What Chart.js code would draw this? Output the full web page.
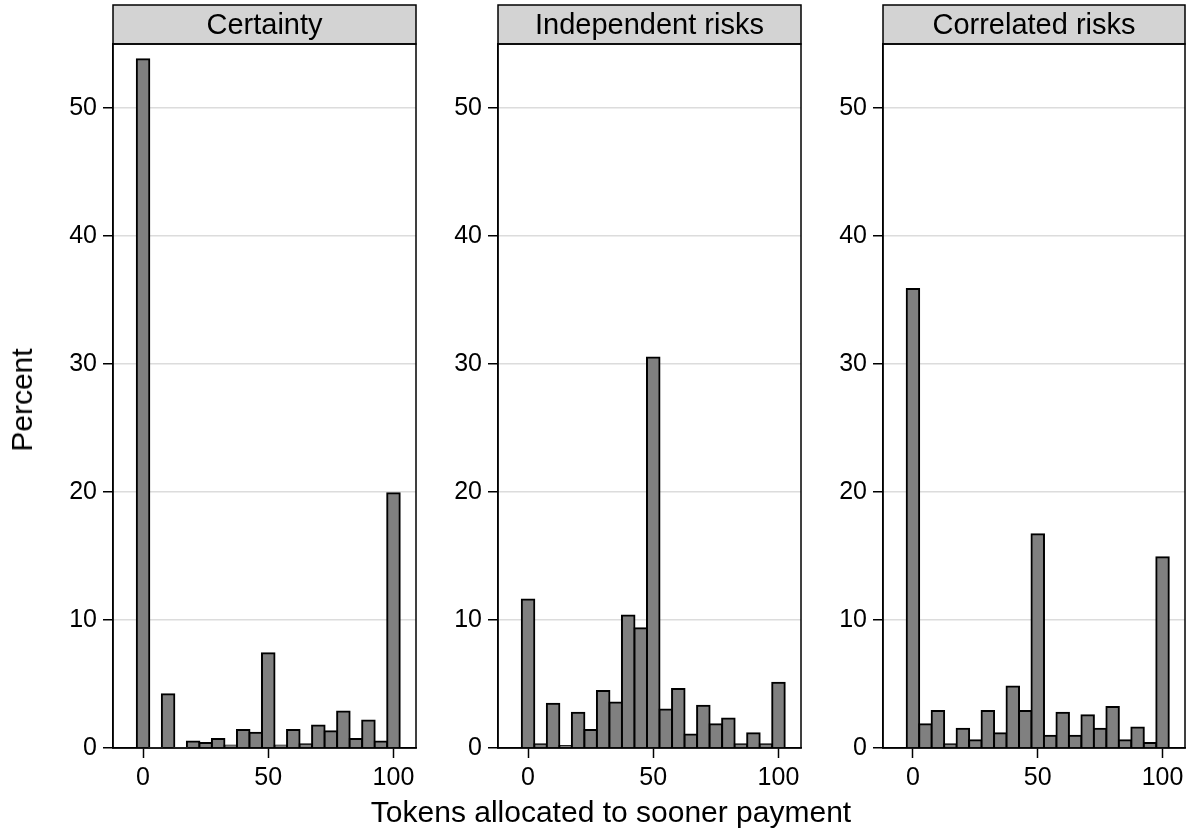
<!DOCTYPE html>
<html lang="en">
<head>
<meta charset="UTF-8" />
<title>Tokens allocated to sooner payment</title>
<script src="https://cdn.jsdelivr.net/npm/chart.js"></script>
<style>
	body {
		margin: 0;
		background: #fff;
		font-family: "Liberation Sans", Arial, sans-serif;
		overflow: hidden;
	}
	#wrap {
		position: relative;
		width: 1191px;
		height: 838px;
	}
	canvas {
		position: absolute;
		top: 0;
	}
	.ytitle {
		position: absolute;
		left: 22px;
		top: 400px;
		font-size: 30px;
		line-height: 30px;
		white-space: nowrap;
		transform: translate(-50%, -50%) rotate(-90deg);
	}
	.xtitle {
		position: absolute;
		left: 611px;
		top: 797px;
		font-size: 30px;
		line-height: 30px;
		white-space: nowrap;
		transform: translateX(-50%);
	}
</style>
</head>
<body>
<div id="wrap">
	<canvas id="c1" width="409" height="838" style="left:13px"></canvas>
	<canvas id="c2" width="409" height="838" style="left:398px"></canvas>
	<canvas id="c3" width="408" height="838" style="left:783px"></canvas>
	<div class="ytitle">Percent</div>
	<div class="xtitle">Tokens allocated to sooner payment</div>
</div>
<script>
	const bins = [0, 5, 10, 15, 20, 25, 30, 35, 40, 45, 50, 55, 60, 65, 70, 75, 80, 85, 90, 95, 100];
	const certainty = [53.8, 0, 4.2, 0, 0.5, 0.4, 0.7, 0.2, 1.4, 1.2, 7.4, 0.2, 1.4, 0.3, 1.75, 1.3, 2.85, 0.7, 2.15, 0.5, 19.9];
	const independent = [11.6, 0.3, 3.45, 0.15, 2.75, 1.4, 4.45, 3.55, 10.35, 9.35, 30.5, 3.0, 4.6, 1.05, 3.3, 1.85, 2.3, 0.3, 1.15, 0.3, 5.1];
	const correlated = [35.85, 1.85, 2.9, 0.3, 1.5, 0.6, 2.9, 1.15, 4.8, 2.9, 16.7, 0.95, 2.75, 0.95, 2.55, 1.5, 3.2, 0.6, 1.6, 0.4, 14.9];
	const panelTitles = ["Certainty", "Independent risks", "Correlated risks"];
	const xTicks = [0, 50, 100];
	const yTicks = [0, 10, 20, 30, 40, 50];

	const FONT = "'Liberation Sans', Arial, sans-serif";

	// gray title strip above the plot + top/right frame
	const stripPlugin = {
		id: "strip",
		afterDraw(chart, args, opts) {
			const { ctx, chartArea: a } = chart;
			ctx.save();
			ctx.fillStyle = "#d3d3d3";
			ctx.fillRect(a.left, 5, a.right - a.left, a.top - 5);
			ctx.strokeStyle = "#000";
			ctx.lineWidth = 1.5;
			ctx.strokeRect(a.left, 5, a.right - a.left, a.top - 5);
			ctx.strokeRect(a.left, a.top, a.right - a.left, a.bottom - a.top);
			ctx.fillStyle = "#000";
			ctx.font = "29px " + FONT;
			ctx.textAlign = "center";
			ctx.textBaseline = "middle";
			ctx.fillText(opts.text, (a.left + a.right) / 2, (5 + a.top) / 2 + 1);
			ctx.restore();
		},
	};

	function makeChart(id, title, values) {
		new Chart(document.getElementById(id), {
			type: "bar",
			data: {
				datasets: [
					{
						data: bins.map((b, i) => ({ x: b, y: values[i] })),
						backgroundColor: "#808080",
						borderColor: "#000",
						borderWidth: (c) => (c.raw && c.raw.y > 0 ? 2 : 0),
						inflateAmount: 1,
						barPercentage: 1,
						categoryPercentage: 1,
					},
				],
			},
			options: {
				responsive: false,
				animation: false,
				layout: { padding: { top: 44, right: 6, left: 0, bottom: 0 } },
				plugins: {
					legend: { display: false },
					tooltip: { enabled: false },
					strip: { text: title },
				},
				scales: {
					x: {
						type: "linear",
						min: -12,
						max: 109,
						offset: false,
						afterBuildTicks: (s) => {
							s.ticks = xTicks.map((v) => ({ value: v }));
						},
						afterFit: (s) => {
							s.height = 90;
						},
						grid: {
							offset: false,
							drawOnChartArea: false,
							tickLength: 10,
							tickColor: "#000",
							tickWidth: 1.5,
						},
						border: { color: "#000", width: 1.5 },
						ticks: {
							color: "#000",
							font: { family: FONT, size: 25 },
							padding: 5,
							maxRotation: 0,
							autoSkip: false,
						},
					},
					y: {
						min: 0,
						max: 55,
						afterBuildTicks: (s) => {
							s.ticks = yTicks.map((v) => ({ value: v }));
						},
						afterFit: (s) => {
							s.width = 100;
						},
						grid: {
							color: (c) => (c.tick && c.tick.value === 0 ? "rgba(0,0,0,0)" : "#dcdcdc"),
							lineWidth: 1.5,
							tickLength: 10,
							tickColor: "#000",
							tickWidth: 1.5,
						},
						border: { color: "#000", width: 1.5 },
						ticks: {
							color: "#000",
							font: { family: FONT, size: 25 },
							padding: 6,
						},
					},
				},
			},
			plugins: [stripPlugin],
		});
	}

	makeChart("c1", panelTitles[0], certainty);
	makeChart("c2", panelTitles[1], independent);
	makeChart("c3", panelTitles[2], correlated);
</script>
</body>
</html>
